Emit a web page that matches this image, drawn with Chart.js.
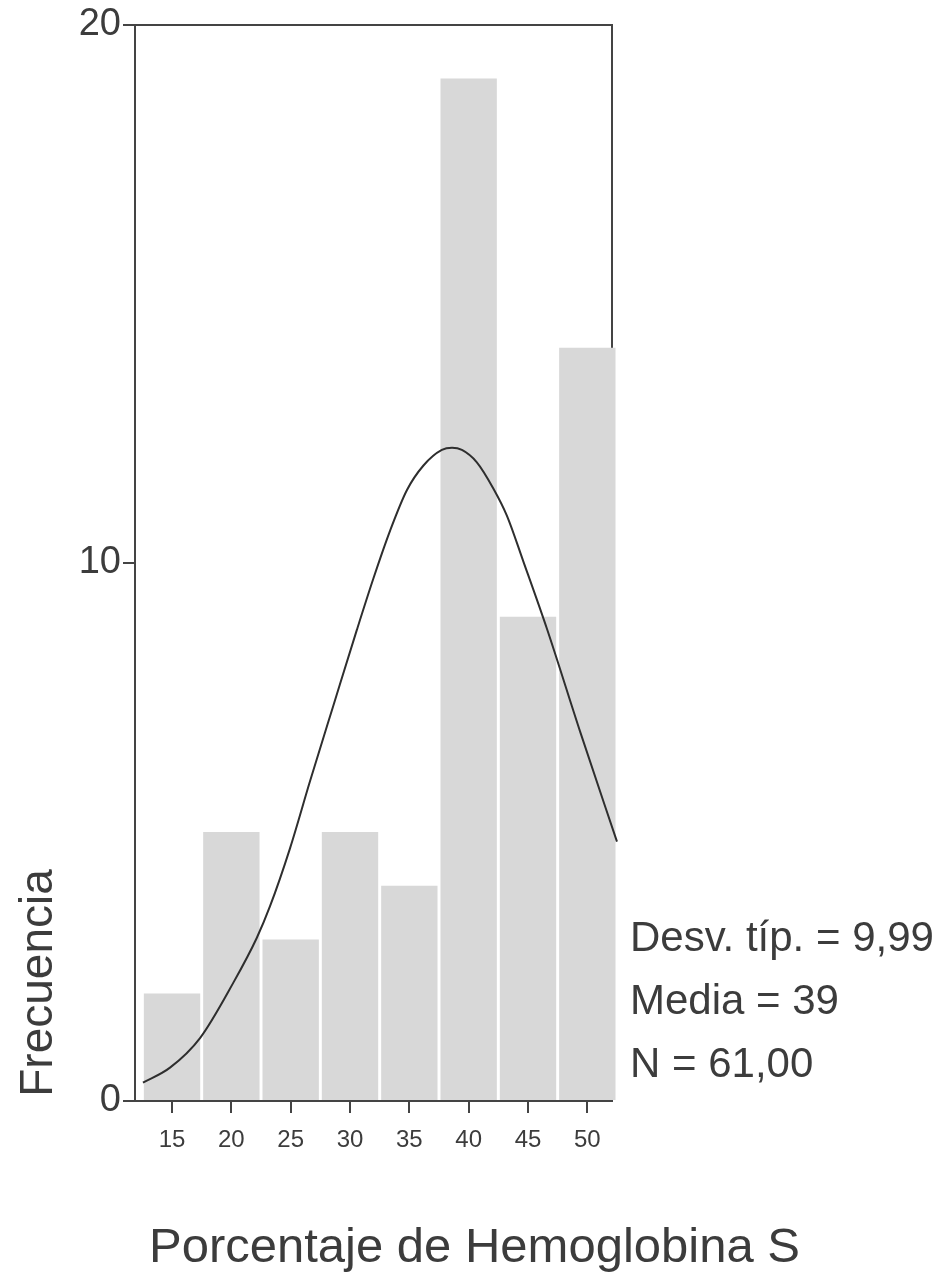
<!DOCTYPE html>
<html>
<head>
<meta charset="utf-8">
<script src="https://cdn.jsdelivr.net/npm/chart.js@4.4.1/dist/chart.umd.min.js"></script>
<style>
  html, body { margin: 0; padding: 0; background: #fff; }
  #wrap { width: 949px; height: 1280px; }
</style>
</head>
<body>
<div id="wrap"><canvas id="histChart" width="949" height="1280"></canvas></div>
<script>
// ========== Data ==========
const binCenters = [15, 20, 25, 30, 35, 40, 45, 50];
const frequencies = [2, 5, 3, 5, 4, 19, 9, 14];

// normal curve
const curveX = [12.55, 14.83, 17.36, 20.17, 22.14, 23.26, 24.95, 26.64, 28.6, 30.57, 31.97, 33.38,
                34.79, 36.19, 37.74, 38.6, 39.43, 40.69, 42.09, 43.22, 44.62, 46.59, 49.4, 52.5];
const curveY = [0.34, 0.62, 1.17, 2.2, 3.03, 3.62, 4.7, 5.95, 7.35, 8.75, 9.71, 10.6,
                11.35, 11.81, 12.1, 12.14, 12.1, 11.87, 11.38, 10.88, 10.02, 8.78, 6.86, 4.82];

const xTicks = [15, 20, 25, 30, 35, 40, 45, 50];
const yTicks = [0, 10, 20];

const statLines = ['Desv. típ. = 9,99', 'Media = 39', 'N = 61,00'];
const xTitle = 'Porcentaje de Hemoglobina S';
const yTitle = 'Frecuencia';

const FONT = '"Liberation Sans", Arial, sans-serif';
const INK = '#3c3c3c';

// ========== Extra text (axis titles + stats box) ==========
const textPlugin = {
    id: 'spssText',
    afterDraw(chart) {
        const ctx = chart.ctx;
        const area = chart.chartArea;
        ctx.save();
        ctx.fillStyle = INK;

        // x title, centred on the page
        ctx.font = '49px ' + FONT;
        ctx.textAlign = 'center';
        ctx.textBaseline = 'alphabetic';
        ctx.fillText(xTitle, chart.width / 2, area.bottom + 161);

        // y title, rotated, near the bottom
        ctx.save();
        ctx.translate(52, area.bottom - 118);
        ctx.rotate(-Math.PI / 2);
        ctx.font = '46px ' + FONT;
        ctx.textAlign = 'center';
        ctx.fillText(yTitle, 0, 0);
        ctx.restore();

        // stats
        ctx.font = '42px ' + FONT;
        ctx.textAlign = 'left';
        statLines.forEach((s, i) => {
            ctx.fillText(s, area.right + 18, area.bottom - 150 + i * 63);
        });
        ctx.restore();
    }
};

// ========== Histogram ==========
const ctx = document.getElementById('histChart');
new Chart(ctx, {
    type: 'bar',
    data: {
        datasets: [{
            type: 'line',
            data: curveX.map((x, i) => ({ x: x, y: curveY[i] })),
            borderColor: '#2e2e2e',
            borderWidth: 2,
            pointRadius: 0,
            cubicInterpolationMode: 'monotone',
            fill: false,
            clip: false,
            order: 0
        }, {
            type: 'bar',
            data: binCenters.map((x, i) => ({ x: x, y: frequencies[i] })),
            backgroundColor: 'rgb(216,216,216)',
            borderWidth: 0,
            barPercentage: 0.95,
            categoryPercentage: 1,
            clip: false,
            order: 1
        }]
    },
    options: {
        responsive: false,
        animation: false,
        layout: { padding: { left: 0, right: 337, top: 0, bottom: 119 } },
        plugins: {
            legend: { display: false },
            tooltip: { enabled: false }
        },
        scales: {
            x: {
                type: 'linear',
                position: 'bottom',
                min: 11.88,
                max: 52.08,
                offset: false,
                afterBuildTicks: (s) => { s.ticks = xTicks.map(v => ({ value: v })); },
                afterFit: (s) => { s.height = 60; },
                grid: { offset: false, drawOnChartArea: false, drawTicks: true, tickLength: 12, tickColor: '#444', lineWidth: 2 },
                border: { display: true, color: '#444', width: 2 },
                ticks: { color: INK, font: { family: FONT, size: 24 }, padding: 13, maxRotation: 0 }
            },
            y: {
                type: 'linear',
                position: 'left',
                min: 0,
                max: 20,
                afterBuildTicks: (s) => { s.ticks = yTicks.map(v => ({ value: v })); },
                afterFit: (s) => { s.width = 135; },
                grid: { drawOnChartArea: false, drawTicks: true, tickLength: 12, tickColor: '#444', lineWidth: 2 },
                border: { display: true, color: '#444', width: 2 },
                ticks: { color: INK, font: { family: FONT, size: 38 }, padding: 2 }
            },
            x2: {
                type: 'linear',
                position: 'top',
                min: 11.88,
                max: 52.08,
                offset: false,
                afterFit: (s) => { s.height = 0; },
                grid: { display: false },
                border: { display: true, color: '#444', width: 2 },
                ticks: { display: false }
            },
            y2: {
                type: 'linear',
                position: 'right',
                min: 0,
                max: 20,
                afterFit: (s) => { s.width = 0; },
                grid: { display: false },
                border: { display: true, color: '#444', width: 2 },
                ticks: { display: false }
            }
        }
    },
    plugins: [textPlugin]
});
</script>
</body>
</html>
